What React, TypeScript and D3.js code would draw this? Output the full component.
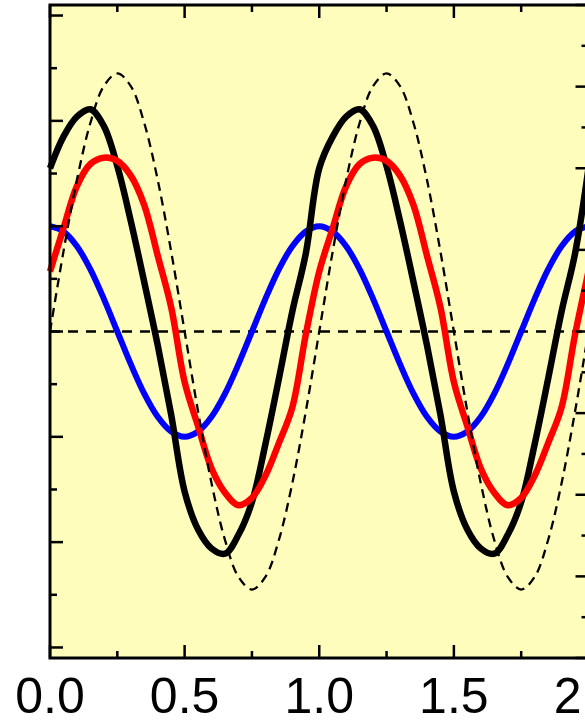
import React from "react";
import * as d3 from "d3";

// Sample positions (one point every 0.05 across two periods)
const xs: number[] = [
  0, 0.05, 0.1, 0.15, 0.2, 0.25, 0.3, 0.35, 0.4, 0.45, 0.5, 0.55, 0.6, 0.65, 0.7, 0.75, 0.8, 0.85, 0.9, 0.95,
  1, 1.05, 1.1, 1.15, 1.2, 1.25, 1.3, 1.35, 1.4, 1.45, 1.5, 1.55, 1.6, 1.65, 1.7, 1.75, 1.8, 1.85, 1.9, 1.95, 2,
];

// Distorted response (thick black)
const blackSeries: number[] = [
  1.55, 1.85, 2.04, 2.11, 1.95, 1.57, 1.05, 0.47, -0.13, -0.79, -1.52, -1.88, -2.06, -2.11, -1.93, -1.62, -1.07, -0.45, 0.19, 0.74,
  1.55, 1.85, 2.04, 2.11, 1.95, 1.57, 1.05, 0.47, -0.13, -0.79, -1.52, -1.88, -2.06, -2.11, -1.93, -1.62, -1.07, -0.45, 0.19, 0.74, 1.55,
];

// Phase-shifted response (red)
const redSeries: number[] = [
  0.57, 0.98, 1.38, 1.59, 1.65, 1.62, 1.48, 1.2, 0.72, 0.23, -0.48, -0.9, -1.3, -1.53, -1.65, -1.58, -1.37, -1.06, -0.72, -0.03,
  0.57, 0.98, 1.38, 1.59, 1.65, 1.62, 1.48, 1.2, 0.72, 0.23, -0.48, -0.9, -1.3, -1.53, -1.65, -1.58, -1.37, -1.06, -0.72, -0.03, 0.57,
];

// Drive signal (blue)
const blueSeries: number[] = [
  1, 0.95, 0.81, 0.59, 0.31, 0, -0.31, -0.59, -0.81, -0.95, -1, -0.95, -0.81, -0.59, -0.31, 0, 0.31, 0.59, 0.81, 0.95,
  1, 0.95, 0.81, 0.59, 0.31, 0, -0.31, -0.59, -0.81, -0.95, -1, -0.95, -0.81, -0.59, -0.31, 0, 0.31, 0.59, 0.81, 0.95, 1,
];

// Reference sine (thin dashed black)
const refSeries: number[] = [
  0, 0.76, 1.44, 1.98, 2.33, 2.45, 2.33, 1.98, 1.44, 0.76, 0, -0.76, -1.44, -1.98, -2.33, -2.45, -2.33, -1.98, -1.44, -0.76,
  0, 0.76, 1.44, 1.98, 2.33, 2.45, 2.33, 1.98, 1.44, 0.76, 0, -0.76, -1.44, -1.98, -2.33, -2.45, -2.33, -1.98, -1.44, -0.76, 0,
];

const xTickLabels: string[] = ["0.0", "0.5", "1.0", "1.5", "2.0"];
const xTickValues: number[] = [0, 0.5, 1, 1.5, 2];

const W = 585;
const H = 721;
const left = 50;
const right = 588.5;
const top = 5;
const bottom = 658;

export default function App() {
  const x = d3.scaleLinear().domain([0, 2]).range([left, right]);
  const y = d3.scaleLinear().domain([-3.1, 3.1]).range([bottom, top]);
  const y2 = d3.scaleLinear().domain([-4, 4]).range([bottom, top]);

  const line = (vals: number[]) =>
    d3
      .line<number>()
      .x((_, i) => x(xs[i]))
      .y((v) => y(v))
      .curve(d3.curveCatmullRom.alpha(0.5))(vals) as string;

  const xMinor = d3.range(0, 2.0001, 0.25);
  const yLeftTicks = d3.range(-3, 3.0001, 0.5);
  const yRightTicks = d3.range(-4, 4.0001, 0.5);

  return (
    <div style={{ position: "fixed", left: 0, top: 0, width: W, height: H, overflow: "hidden", background: "#fff" }}>
      <svg width={600} height={H} style={{ display: "block", overflow: "visible" }}>
        <rect x={left} y={top} width={right - left} height={bottom - top} fill="#FFFDBB" />

        {/* zero reference */}
        <line x1={left} x2={right} y1={y(0)} y2={y(0)} stroke="#000" strokeWidth={2.3} strokeDasharray="10 8" />

        <path d={line(blueSeries)} fill="none" stroke="#0000FF" strokeWidth={6} />
        <path d={line(blackSeries)} fill="none" stroke="#000" strokeWidth={6.5} strokeLinejoin="round" />
        <path d={line(redSeries)} fill="none" stroke="#FF0000" strokeWidth={6.5} strokeLinejoin="round" />
        <path d={line(refSeries)} fill="none" stroke="#000" strokeWidth={2.3} strokeDasharray="9 6" />

        {/* x ticks, top and bottom */}
        {xMinor.map((v) => {
          const major = Math.abs(v * 2 - Math.round(v * 2)) < 1e-6;
          const len = major ? 13 : 7;
          return (
            <g key={`xt${v}`} stroke="#000" strokeWidth={2.5}>
              <line x1={x(v)} x2={x(v)} y1={bottom} y2={bottom - len} />
              <line x1={x(v)} x2={x(v)} y1={top} y2={top + len} />
            </g>
          );
        })}

        {/* left ticks */}
        {yLeftTicks.map((v) => {
          const major = Math.abs(v - Math.round(v)) < 1e-6;
          return (
            <line key={`yl${v}`} x1={left} x2={left + (major ? 13 : 7)} y1={y(v)} y2={y(v)} stroke="#000" strokeWidth={2.5} />
          );
        })}

        {/* right ticks */}
        {yRightTicks.map((v) => {
          const major = Math.abs(v - Math.round(v)) < 1e-6;
          return (
            <line key={`yr${v}`} x1={right} x2={right - (major ? 13 : 7)} y1={y2(v)} y2={y2(v)} stroke="#000" strokeWidth={2.5} />
          );
        })}

        {/* frame */}
        <rect x={left} y={top} width={right - left} height={bottom - top} fill="none" stroke="#000" strokeWidth={3} />

        {xTickValues.map((v, i) => (
          <text
            key={`xl${v}`}
            x={x(v)}
            y={713}
            textAnchor="middle"
            fontFamily="'Liberation Sans', Arial, sans-serif"
            fontSize={50}
            fill="#000"
          >
            {xTickLabels[i]}
          </text>
        ))}
      </svg>
    </div>
  );
}
